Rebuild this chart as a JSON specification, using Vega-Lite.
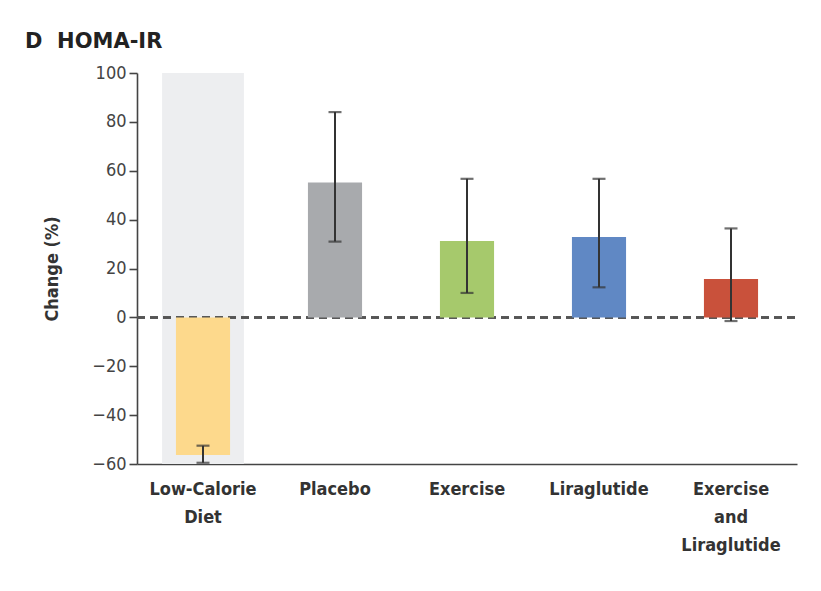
{
  "$schema": "https://vega.github.io/schema/vega-lite/v6.json",
  "autosize": "none",
  "width": 660,
  "height": 391,
  "padding": {"left": 137, "top": 73, "right": 24, "bottom": 127},
  "background": "white",
  "config": {
    "view": {"stroke": null},
    "font": "DejaVu Sans Condensed, Roboto, sans-serif"
  },
  "title": {
    "text": "D\u00a0\u00a0HOMA-IR",
    "anchor": "start",
    "frame": "group",
    "dx": -112,
    "offset": 12,
    "fontSize": 21,
    "fontWeight": "bold",
    "color": "#222",
    "font": "DejaVu Sans, Roboto, sans-serif"
  },
  "data": {
    "values": [
      {"group": "Low-Calorie Diet", "mean": -56.3, "lo": -59.5, "hi": -52.5, "bgLo": -60, "bgHi": 100},
      {"group": "Placebo", "mean": 55.2, "lo": 31, "hi": 84},
      {"group": "Exercise", "mean": 31.3, "lo": 10, "hi": 56.7},
      {"group": "Liraglutide", "mean": 32.9, "lo": 12.3, "hi": 56.7},
      {"group": "Exercise and Liraglutide", "mean": 15.7, "lo": -1.5, "hi": 36.4}
    ]
  },
  "encoding": {
    "x": {
      "field": "group",
      "type": "nominal",
      "sort": null,
      "scale": {"paddingInner": 0, "paddingOuter": 0},
      "axis": {
        "title": null,
        "labelAngle": 0,
        "ticks": false,
        "domainColor": "#444",
        "domainWidth": 1.6,
        "labelFontSize": 18,
        "labelFontWeight": "bold",
        "labelColor": "#333",
        "labelPadding": 16,
        "labelLineHeight": 28,
        "labelExpr": "split(datum.label, ' ')"
      }
    }
  },
  "layer": [
    {
      "transform": [{"filter": "datum.bgLo != null"}],
      "mark": {"type": "bar", "color": "#EDEEF0", "width": {"band": 0.62}},
      "encoding": {
        "y": {"field": "bgLo", "type": "quantitative"},
        "y2": {"field": "bgHi"}
      }
    },
    {
      "mark": {"type": "rule", "strokeDash": [8, 5], "strokeWidth": 2, "color": "#555"},
      "encoding": {"y": {"datum": 0}, "x": {"value": 0}, "x2": {"value": 658}}
    },
    {
      "mark": {"type": "bar", "width": {"band": 0.41}},
      "encoding": {
        "y": {
          "field": "mean",
          "type": "quantitative",
          "scale": {"domain": [-60, 100], "nice": false},
          "axis": {
            "title": "Change (%)",
            "titleFontSize": 18,
            "titleFontWeight": "bold",
            "titleColor": "#333",
            "titlePadding": 30,
            "values": [-60, -40, -20, 0, 20, 40, 60, 80, 100],
            "grid": false,
            "labelFontSize": 18,
            "labelColor": "#444",
            "labelPadding": 3,
            "tickSize": 8,
            "tickColor": "#444",
            "tickWidth": 1.6,
            "domainColor": "#444",
            "domainWidth": 1.6
          }
        },
        "y2": {"datum": 0},
        "color": {
          "field": "group",
          "type": "nominal",
          "legend": null,
          "scale": {
            "domain": ["Low-Calorie Diet", "Placebo", "Exercise", "Liraglutide", "Exercise and Liraglutide"],
            "range": ["#FDD98C", "#A8AAAD", "#A6C96C", "#6088C4", "#C9513B"]
          }
        }
      }
    },
    {
      "mark": {"type": "rule", "color": "#333", "strokeWidth": 2},
      "encoding": {
        "y": {"field": "lo", "type": "quantitative"},
        "y2": {"field": "hi"}
      }
    },
    {
      "mark": {"type": "tick", "color": "#333", "thickness": 2.2, "size": 13},
      "encoding": {"y": {"field": "lo", "type": "quantitative"}}
    },
    {
      "mark": {"type": "tick", "color": "#333", "thickness": 2.2, "size": 13},
      "encoding": {"y": {"field": "hi", "type": "quantitative"}}
    }
  ]
}
